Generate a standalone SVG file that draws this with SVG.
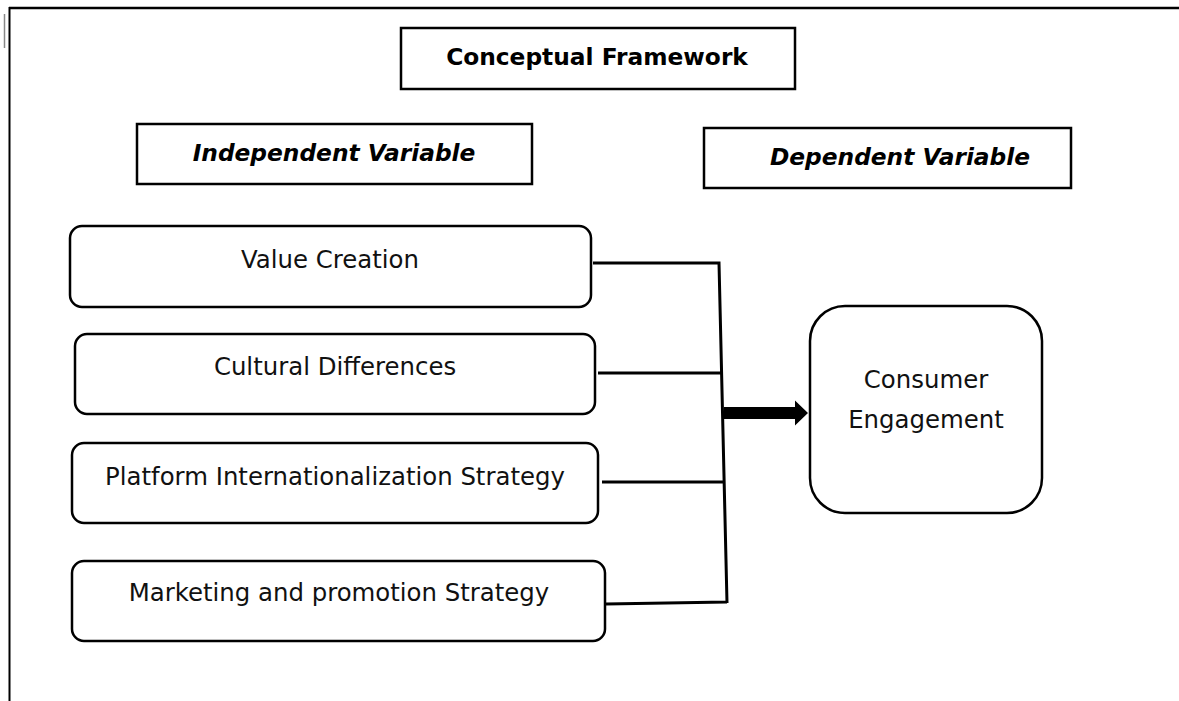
<svg xmlns="http://www.w3.org/2000/svg" width="1179" height="701" viewBox="0 0 1179 701">
  <style>
    .box { fill: #ffffff; stroke: #000000; stroke-width: 2.5; }
    .head { font-family: "DejaVu Sans", sans-serif; font-weight: bold; font-size: 23.3px; fill: #000; text-anchor: middle; }
    .ital { font-style: italic; }
    .lbl { font-family: "DejaVu Sans", sans-serif; font-size: 24.4px; fill: #111; text-anchor: middle; }
    .wire { fill: none; stroke: #000000; stroke-width: 3; }
  </style>

  <rect width="1179" height="701" fill="#ffffff"/>

  <!-- page frame -->
  <g id="frame">
    <line x1="9" y1="8" x2="1179" y2="8" stroke="#000" stroke-width="2.5"/>
    <line x1="9.5" y1="7" x2="9.5" y2="701" stroke="#000" stroke-width="2"/>
    <line x1="4.5" y1="14" x2="4.5" y2="48" stroke="#888" stroke-width="1.5"/>
  </g>

  <g id="title">
    <rect class="box" x="401" y="28" width="394" height="61"/>
    <text class="head" x="597" y="65">Conceptual Framework</text>
  </g>

  <g id="independent-header">
    <rect class="box" x="137" y="124" width="395" height="60"/>
    <text class="head ital" x="334" y="161">Independent Variable</text>
  </g>

  <g id="dependent-header">
    <rect class="box" x="704" y="128" width="367" height="60"/>
    <text class="head ital" x="900" y="165">Dependent Variable</text>
  </g>

  <g id="value-creation">
    <rect class="box" x="70" y="226" width="521" height="81" rx="12"/>
    <text class="lbl" x="330" y="268">Value Creation</text>
  </g>

  <g id="cultural-differences">
    <rect class="box" x="75" y="334" width="520" height="80" rx="12"/>
    <text class="lbl" x="335" y="375">Cultural Differences</text>
  </g>

  <g id="platform-strategy">
    <rect class="box" x="72" y="443" width="526" height="80" rx="12"/>
    <text class="lbl" x="335" y="485">Platform Internationalization Strategy</text>
  </g>

  <g id="marketing-strategy">
    <rect class="box" x="72" y="561" width="533" height="80" rx="12"/>
    <text class="lbl" x="339" y="601">Marketing and promotion Strategy</text>
  </g>

  <g id="consumer-engagement">
    <rect class="box" x="810" y="306" width="232" height="207" rx="35"/>
    <text class="lbl" x="926" y="388">Consumer</text>
    <text class="lbl" x="926" y="428">Engagement</text>
  </g>

  <g id="connectors">
    <path class="wire" d="M593 263 L719 263 L727 603 M598 373 L722 373 M602 482 L725 482 M606 604 L727 602"/>
    <path d="M724 407 L795 407 L795 400.5 L808 413 L795 425.5 L795 419 L724 419 Z" fill="#000"/>
  </g>
</svg>
